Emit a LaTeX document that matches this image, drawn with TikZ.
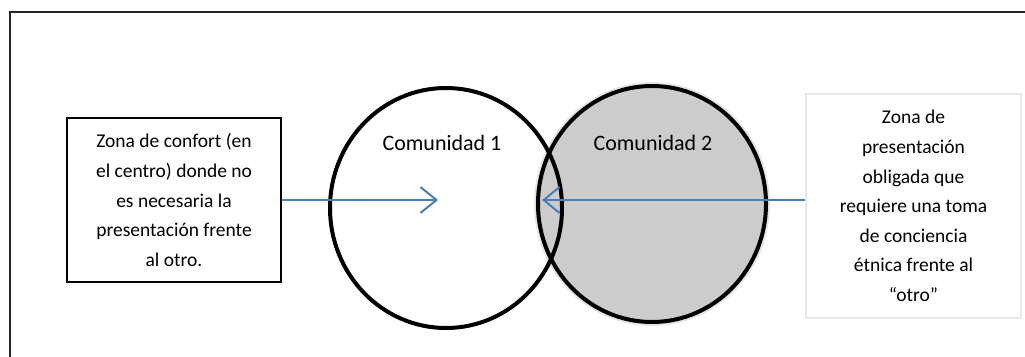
\documentclass[tikz,border=0pt]{standalone}
\usepackage{fontspec}
\setmainfont{Carlito}
\usetikzlibrary{arrows.meta}
\definecolor{arrowblue}{HTML}{4A7EBB}
\definecolor{circlegray}{HTML}{CCCCCC}
\definecolor{lightframe}{HTML}{E8E8E8}
\tikzset{
  txt/.style={font=\fontsize{19.5}{29.6}\selectfont, align=center},
  leftbox/.style={draw=black, line width=1.8pt, fill=white, minimum width=214pt, minimum height=164pt, inner sep=0pt, txt},
  rightbox/.style={draw=lightframe, line width=1.3pt, fill=white, minimum width=215pt, minimum height=224pt, inner sep=0pt, txt},
  community/.style={line width=4pt, draw=black},
  lbl/.style={font=\fontsize{22}{26}\selectfont},
  pointer/.style={draw=arrowblue, line width=2pt, -{Straight Barb[length=16pt,width=26pt,line width=2pt]}},
}
\begin{document}
\begin{tikzpicture}[x=1pt,y=-1pt]
\useasboundingbox (0,0) rectangle (1025,356);
\clip (0,0) rectangle (1025,356);
\fill[white] (0,0) rectangle (1025,356);
% outer frame
\draw[line width=1.5pt, draw=black!85] (10,12) rectangle (1040,370);
% circles
\fill[black!20, opacity=0.5] (652,204) ellipse [x radius=118pt, y radius=122pt];
\draw[community, fill=circlegray] (652,204) ellipse [x radius=114pt, y radius=118pt];
\draw[community] (446,208) ellipse [x radius=116pt, y radius=120pt];
\node[lbl] (c1lbl) at (442,143) {Comunidad 1};
\node[lbl] (c2lbl) at (653,143) {Comunidad 2};
% boxes
\node[leftbox] (lbox) at (174,200) {Zona de confort (en\\el centro) donde no\\es necesaria la\\presentación frente\\al otro.};
\node[rightbox] (rbox) at (913.5,206) {Zona de\\presentación\\obligada que\\requiere una toma\\de conciencia\\étnica frente al\\“otro”};
% arrow targets
\coordinate (t1) at (438,200);
\coordinate (t2) at (542,200);
\draw[pointer] (lbox.east) -- (t1);
\draw[pointer] (rbox.west |- t2) -- (t2);
\end{tikzpicture}
\end{document}
